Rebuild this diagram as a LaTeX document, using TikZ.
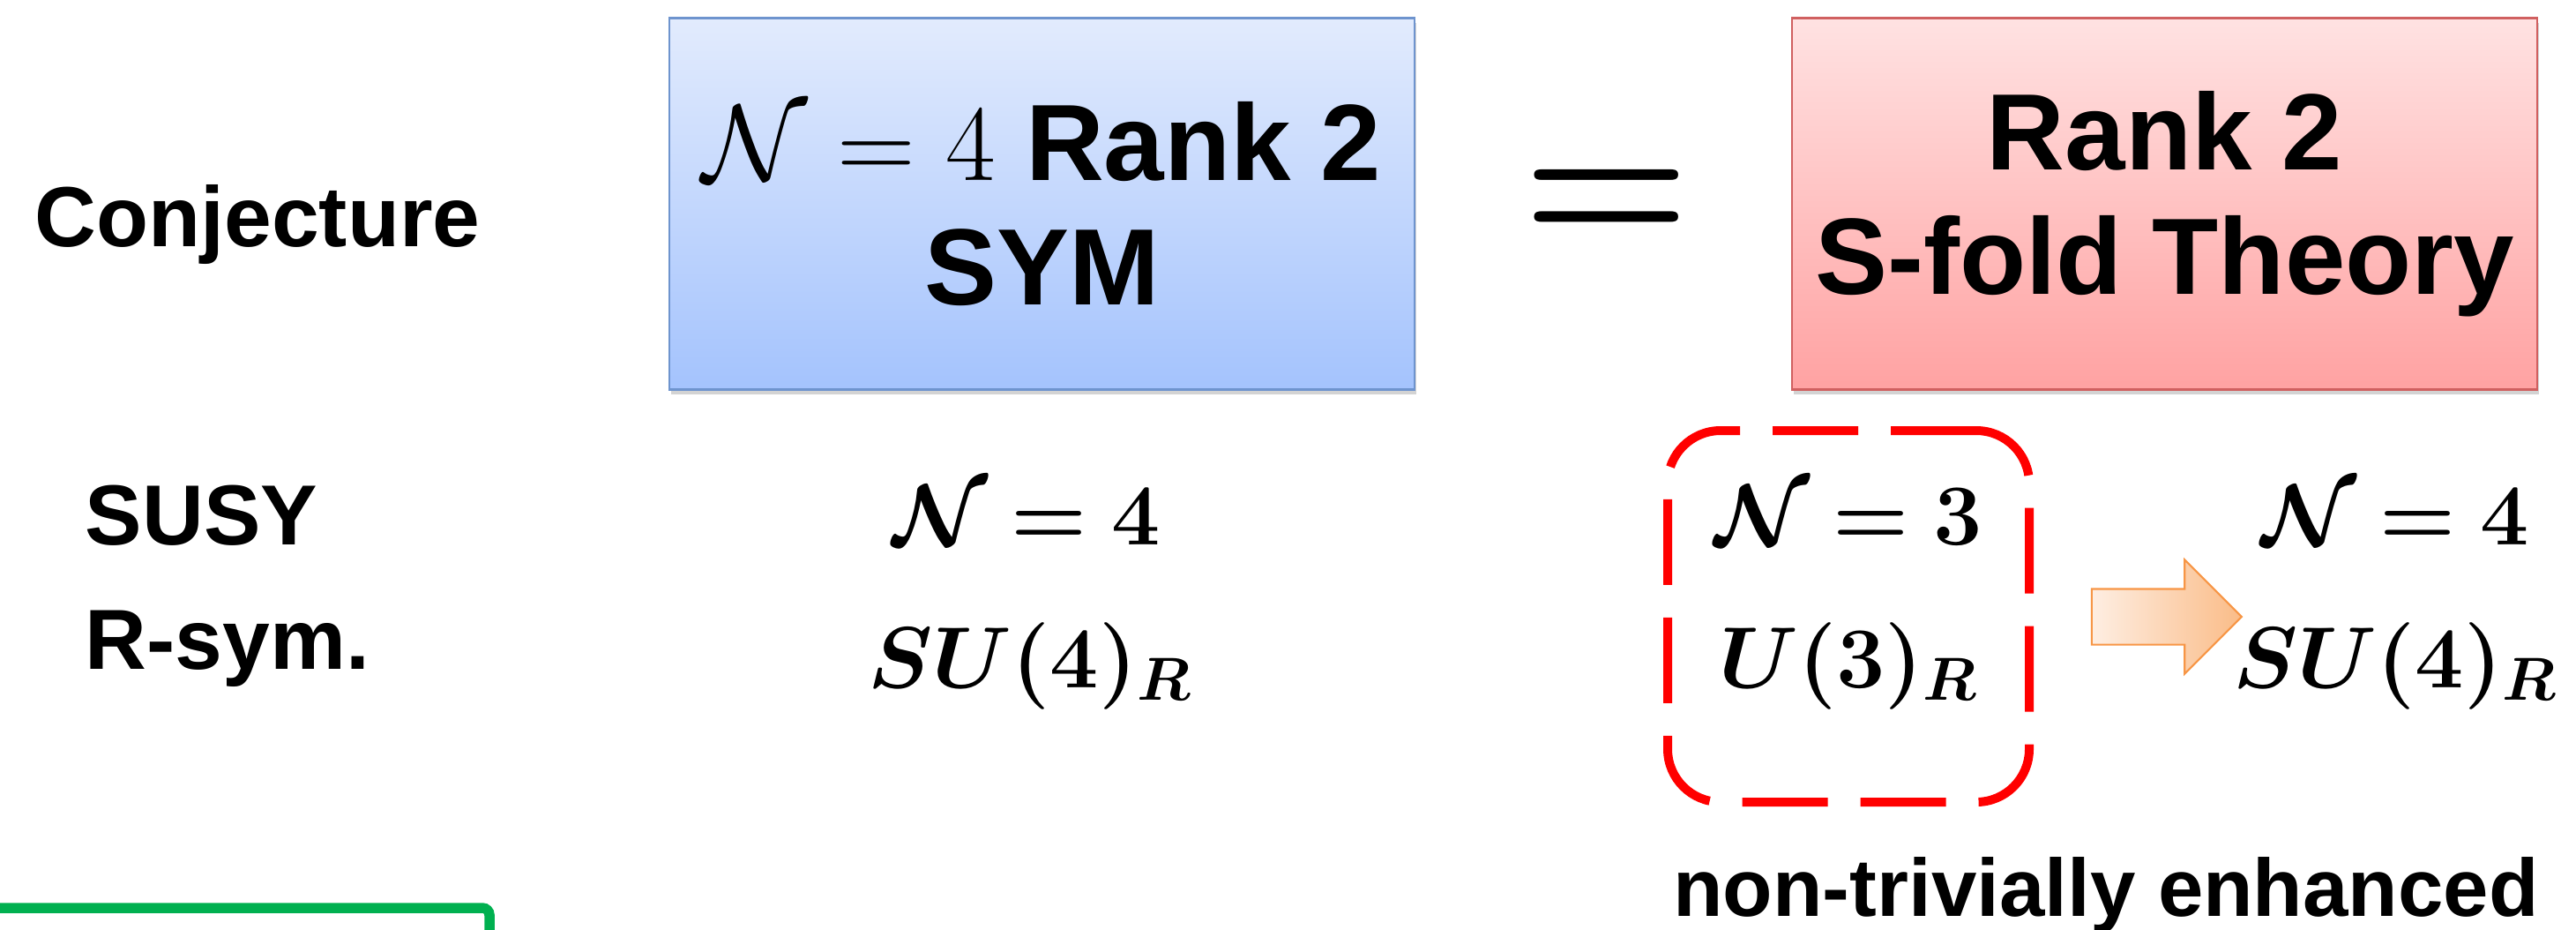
\RequirePackage{fix-cm}
\documentclass[tikz,border=0pt]{standalone}
\usepackage[no-math]{fontspec}
\usepackage{amsmath}
\usepackage{bm}
\usepackage{xcolor}
\usepackage{tikz}
\usetikzlibrary{shapes.arrows,shadows}
\newfontfamily\labfont{Liberation Sans}
\definecolor{symtop}{RGB}{226,235,253}
\definecolor{symbot}{RGB}{164,195,253}
\definecolor{symline}{RGB}{110,148,206}
\definecolor{foldtop}{RGB}{255,226,226}
\definecolor{foldbot}{RGB}{255,162,162}
\definecolor{foldline}{RGB}{208,96,96}
\definecolor{arrowleft}{RGB}{254,238,226}
\definecolor{arrowright}{RGB}{250,188,136}
\definecolor{arrowline}{RGB}{247,150,70}
\definecolor{framegreen}{RGB}{0,176,80}

\begin{document}
\begin{tikzpicture}[
every node/.style={inner sep=0pt,outer sep=0pt},
label/.style={font=\labfont\bfseries\fontsize{27.5}{33}\selectfont,anchor=base},
theory/.style={draw,line width=0.8pt,minimum width=8.45cm,minimum height=4.21cm,
  align=center,font=\labfont\bfseries\fontsize{35}{40}\selectfont,
  drop shadow={shadow xshift=0.02cm,shadow yshift=-0.05cm,opacity=0.35}},
value/.style={font=\fontsize{28}{34}\selectfont,anchor=base},
enhanced/.style={draw=red,line width=0.1cm,rounded corners=0.6cm,
  dash pattern=on 0.97cm off 0.37cm,minimum width=4.1cm,minimum height=4.21cm}
]
\useasboundingbox (0,0) rectangle (29.21,-10.53);

% Titles
\node[label] (conj) at (2.92,-2.79) {Conjecture};
\node[theory,top color=symtop,bottom color=symbot,draw=symline] (sym) at (11.815,-2.31)
  {$\mathcal{N}=4$ Rank 2\\SYM};
\node[font=\fontsize{62}{62}\selectfont] (eq) at (18.22,-2.34) {$\bm{=}$};
\node[theory,top color=foldtop,bottom color=foldbot,draw=foldline] (sfold) at (24.545,-2.31)
  {Rank 2\\S-fold Theory};

% Rows
\node[label,anchor=base west] (susy) at (0.97,-6.17) {SUSY};
\node[label,anchor=base west] (rsym) at (0.97,-7.58) {R-sym.};

% SYM side
\node[value] (nfour) at (11.64,-6.17) {$\bm{\mathcal{N}=4}$};
\node[value] (sufour) at (11.68,-7.79) {$\bm{SU(4)_R}$};

% S-fold side
\node[value] (nthree) at (20.96,-6.17) {$\bm{\mathcal{N}=3}$};
\node[value] (uthree) at (20.96,-7.79) {$\bm{U(3)_R}$};
\node[enhanced] (core) at (20.96,-6.985) {};
\node[single arrow,draw=arrowline,line width=0.6pt,left color=arrowleft,right color=arrowright,
  inner ysep=0.305cm,minimum height=1.7cm,single arrow head extend=0.33cm] (lift) at (24.41,-6.99) {};
\node[value] (nfourS) at (27.16,-6.17) {$\bm{\mathcal{N}=4}$};
\node[value] (sufourS) at (27.16,-7.79) {$\bm{SU(4)_R}$};
\node[label,font=\labfont\bfseries\fontsize{26.3}{32}\selectfont] (enh) at (23.88,-10.38) {non-trivially enhanced};

% Green frame
\draw[framegreen,line width=0.115cm,rounded corners=0.08cm] (-0.2,-10.29) -- (5.55,-10.29) -- (5.55,-10.8);

\end{tikzpicture}
\end{document}
